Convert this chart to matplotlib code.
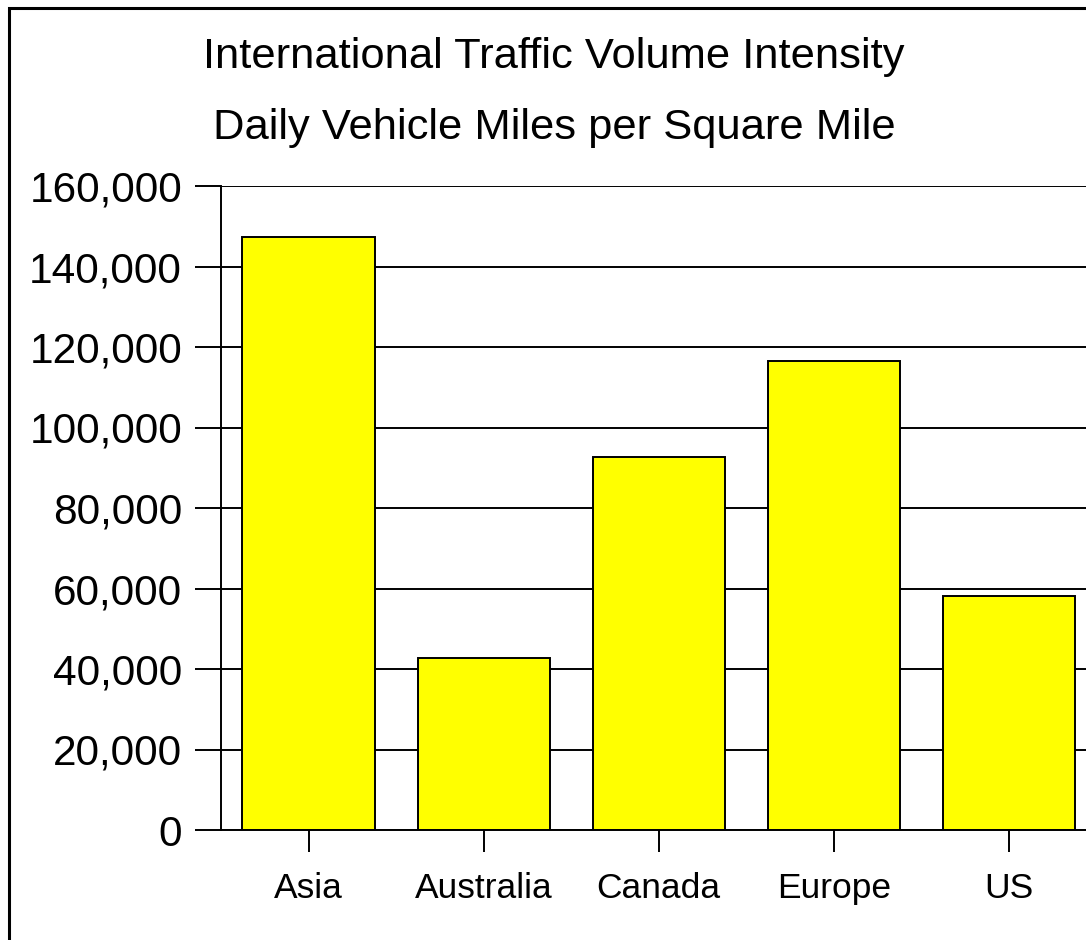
import matplotlib
matplotlib.use("Agg")
import matplotlib.pyplot as plt
from matplotlib.patches import Rectangle
from matplotlib.ticker import FuncFormatter

# data
regions = ["Asia", "Australia", "Canada", "Europe", "US"]
vmt_per_sq_mile = [147300, 42700, 92700, 116500, 58100]
y_ticks = [0, 20000, 40000, 60000, 80000, 100000, 120000, 140000, 160000]
title_lines = ["International Traffic Volume Intensity",
               "Daily Vehicle Miles per Square Mile"]

plt.rcParams["font.family"] = ["Liberation Sans", "DejaVu Sans"]

W, H = 1086, 940
fig = plt.figure(figsize=(W / 100, H / 100), dpi=100)

# axes placed in pixels; the right end runs past the canvas like the original
left, right, bottom, top = 221, 1096.5, 830, 186
ax = fig.add_axes([left / W, 1 - bottom / H, (right - left) / W, (bottom - top) / H])

ax.bar(range(len(regions)), vmt_per_sq_mile, width=0.755, color="#ffff00",
       edgecolor="black", linewidth=1.4, zorder=3)

ax.set_xlim(-0.5, 4.5)
ax.set_ylim(0, 160000)
ax.set_yticks(y_ticks)
ax.yaxis.set_major_formatter(FuncFormatter(lambda v, p: f"{int(v):,}"))
ax.set_xticks(range(len(regions)))
ax.set_xticklabels(regions)

ax.grid(axis="y", color="black", linewidth=1.4, zorder=1)
ax.set_axisbelow(True)
for s in ["top", "right"]:
    ax.spines[s].set_visible(False)
for s in ["left", "bottom"]:
    ax.spines[s].set_linewidth(1.4)
    ax.spines[s].set_zorder(4)

ax.tick_params(axis="y", length=19, width=1.4, pad=9, labelsize=30.5)
ax.tick_params(axis="x", length=16, width=1.4, pad=14, labelsize=25.5)

cx = 554 / W
fig.text(cx, 1 - 57 / H, title_lines[0], ha="center", va="center", fontsize=31.3)
fig.text(cx, 1 - 128 / H, title_lines[1], ha="center", va="center", fontsize=31.3)

# outer border, clipped on the right and bottom as in the reference
fig.patches.append(Rectangle((9 / W, -0.1), 1.2, 1.1 - 8.5 / H, transform=fig.transFigure,
                             fill=False, edgecolor="black", linewidth=2.2))

fig.savefig("out.png", dpi=100, facecolor="white")
